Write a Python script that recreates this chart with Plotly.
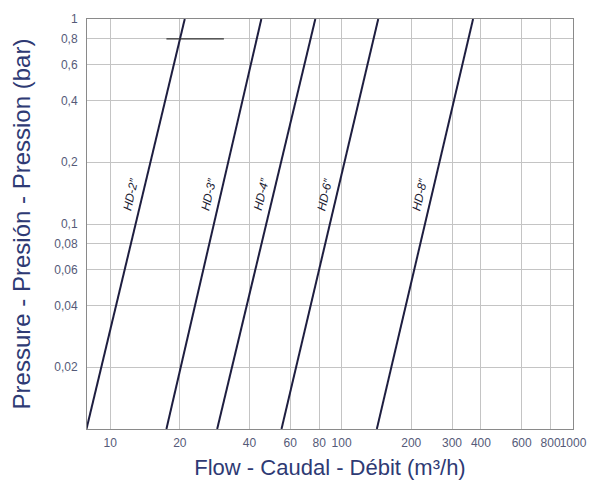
import numpy as np
import plotly.graph_objects as go

# ---- data ----
series_names = ["HD-2\u2033", "HD-3\u2033", "HD-4\u2033", "HD-6\u2033", "HD-8\u2033"]
pressure_ends = [0.01, 1.0]                 # bar
flow_at_low = [7.9, 17.5, 29.0, 55.0, 142.0]  # m3/h at 0.01 bar
flow_at_high = [21.0, 45.0, 77.0, 144.0, 370.0]  # m3/h at 1 bar

marker_pressure = [0.8, 0.8]
marker_flow = [17.5, 31.0]

x_tickvals = [10, 20, 40, 60, 80, 100, 200, 300, 400, 600, 800, 1000]
x_ticktext = ["10", "20", "40", "60", "80", "100", "200", "300", "400", "600", "800", "1000"]
y_tickvals = [0.02, 0.04, 0.06, 0.08, 0.1, 0.2, 0.4, 0.6, 0.8, 1]
y_ticktext = ["0,02", "0,04", "0,06", "0,08", "0,1", "0,2", "0,4", "0,6", "0,8", "1"]

LINE_COLOR = "#1e1e40"
TICK_COLOR = "#555a78"
TITLE_COLOR = "#2e3a74"
LABEL_P = 0.14

fig = go.Figure()
for name, q0, q1 in zip(series_names, flow_at_low, flow_at_high):
    fig.add_trace(go.Scatter(x=[q0, q1], y=pressure_ends, mode="lines",
                             line=dict(color=LINE_COLOR, width=2),
                             name=name, showlegend=False))
    # label placed beside the line at LABEL_P (log-log interpolation)
    t = (np.log10(LABEL_P) - np.log10(pressure_ends[0])) / (np.log10(pressure_ends[1]) - np.log10(pressure_ends[0]))
    lx = np.log10(q0) + t * (np.log10(q1) - np.log10(q0))
    fig.add_annotation(x=lx, y=np.log10(LABEL_P), xref="x", yref="y",
                       text="<i>" + name + "</i>", showarrow=False,
                       textangle=-77, xshift=-12,
                       font=dict(family="Liberation Sans, Arial", size=12, color="#222233"))

fig.add_trace(go.Scatter(x=marker_flow, y=marker_pressure, mode="lines",
                         line=dict(color="#333333", width=1.3), showlegend=False))

fig.update_layout(
    width=598, height=477,
    margin=dict(l=79, r=33, t=11, b=56, autoexpand=False),
    paper_bgcolor="white", plot_bgcolor="white",
    font=dict(family="Liberation Sans, Arial", size=12, color=TICK_COLOR),
    showlegend=False,
)
fig.update_xaxes(type="log", range=[np.log10(7.94), 3.0],
                 tickvals=x_tickvals, ticktext=x_ticktext, tickangle=0,
                 showgrid=True, gridcolor="#c4c4c4", gridwidth=1,
                 showline=True, linecolor="#8a8a8a", linewidth=1, mirror=True,
                 ticks="", ticklabelstandoff=3, automargin=False,
                 tickfont=dict(size=12, color=TICK_COLOR),
                 zeroline=False,
                 title=dict(text="Flow - Caudal - Débit (m\u00b3/h)",
                            font=dict(size=22, color=TITLE_COLOR), standoff=10))
fig.update_yaxes(type="log", range=[-2, 0],
                 tickvals=y_tickvals, ticktext=y_ticktext,
                 showgrid=True, gridcolor="#c4c4c4", gridwidth=1,
                 showline=True, linecolor="#8a8a8a", linewidth=1, mirror=True,
                 ticks="", ticklabelstandoff=6, automargin=False,
                 tickfont=dict(size=12, color=TICK_COLOR),
                 zeroline=False,
                 title=dict(text="Pressure - Presión - Pression (bar)",
                            font=dict(size=24, color=TITLE_COLOR), standoff=24))

fig.write_html("out.html")
